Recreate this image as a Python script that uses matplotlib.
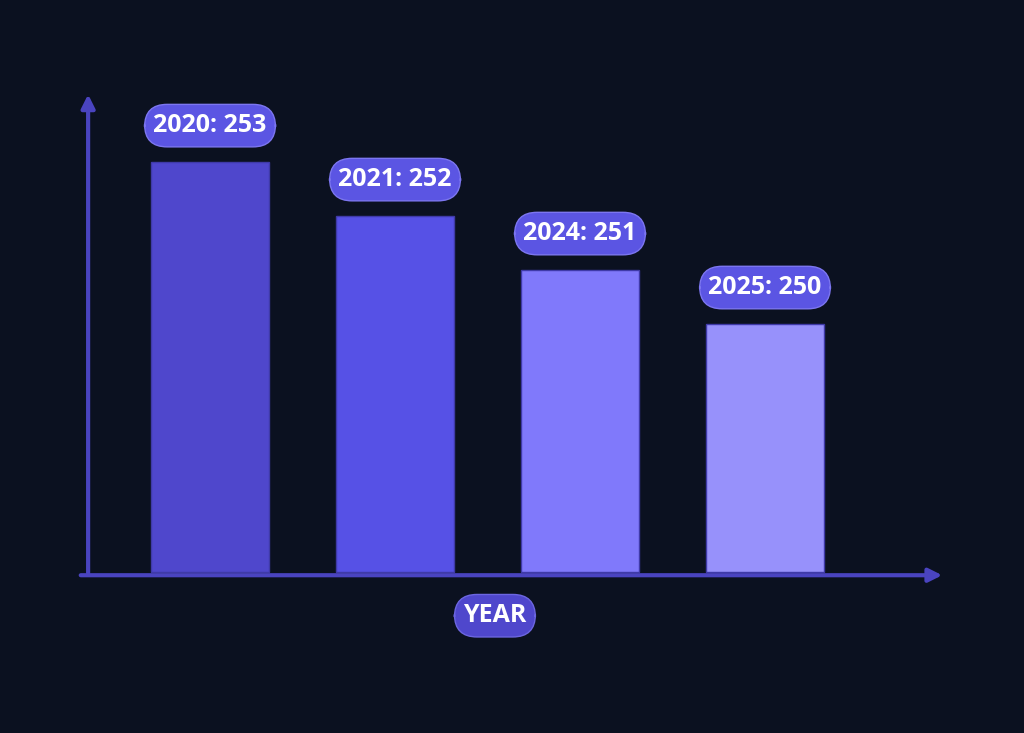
import matplotlib
matplotlib.use("Agg")
import matplotlib.pyplot as plt

years = ["2020", "2021", "2024", "2025"]
values = [253, 252, 251, 250]
bar_colors = ["#4f47cc", "#5651e6", "#8079fb", "#9791fb"]
x_label = "YEAR"

BG = "#0b1120"
BASE = 245.4

fig = plt.figure(figsize=(10.24, 7.33), dpi=100, facecolor=BG)
ax = fig.add_axes([60 / 1024, 93 / 733, 900 / 1024, 550 / 733])
ax.set_facecolor(BG)
ax.set_xlim(-0.811, 4.054)
ax.set_ylim(244.14, 254.33)
ax.axis("off")

pos = list(range(len(years)))
ax.bar(pos, [v - BASE for v in values], bottom=BASE, width=0.64,
       color=bar_colors, edgecolor="#3f3aa8", linewidth=1)

# axes arrows
ax.annotate("", xy=(3.973, 245.34), xytext=(-0.714, 245.34),
            arrowprops=dict(arrowstyle="-|>,head_length=0.8,head_width=0.4", color="#4a44c0", lw=3))
ax.annotate("", xy=(-0.659, 254.3), xytext=(-0.659, 245.3),
            arrowprops=dict(arrowstyle="-|>,head_length=0.8,head_width=0.4", color="#4a44c0", lw=3))

for p, y, v in zip(pos, years, values):
    ax.text(p, v + 0.67, f"{y}: {v}", ha="center", va="center", color="white",
            fontsize=18, fontweight="bold", family="Open Sans",
            bbox=dict(boxstyle="round,pad=0.35,rounding_size=0.9", fc="#5b55e3", ec="#7c76f0", lw=1))

ax.text(1.54, 244.59, x_label, ha="center", va="center", color="white",
        fontsize=18, fontweight="bold", family="Open Sans",
        bbox=dict(boxstyle="round,pad=0.35,rounding_size=0.9", fc="#4f47cc", ec="#6c66e0", lw=1))

fig.savefig("out.png", dpi=100, facecolor=BG)
